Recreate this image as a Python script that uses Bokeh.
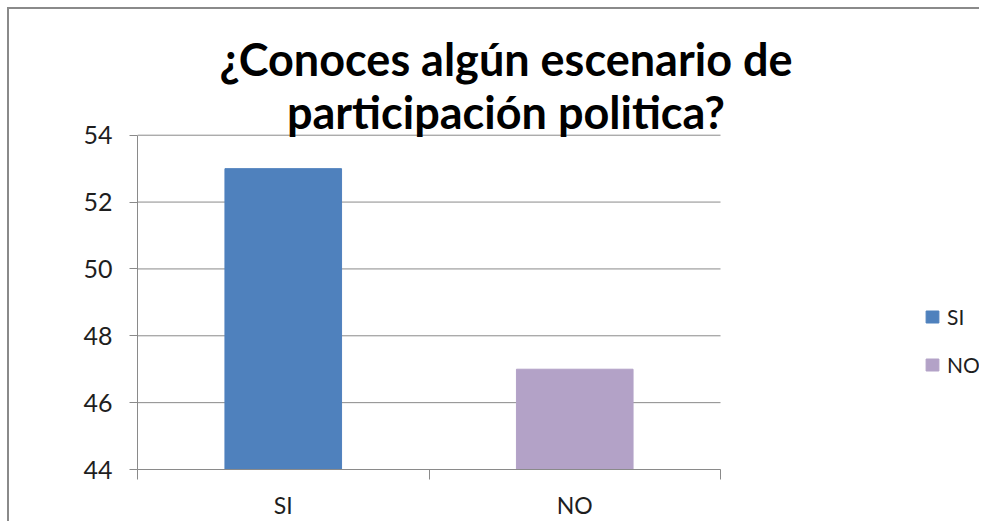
from bokeh.plotting import figure
from bokeh.layouts import column
from bokeh.models import ColumnDataSource, FixedTicker, Range1d, Label
from bokeh.embed import file_html
from bokeh.resources import INLINE

categories = ["SI", "NO"]
values = [53, 47]
colors = ["#4F81BD", "#B3A2C7"]
y_ticks = [44, 46, 48, 50, 52, 54]
title_lines = ["¿Conoces algún escenario de", "participación politica?"]

n = len(categories)
xs = [i + 0.5 for i in range(n)]
src = ColumnDataSource(dict(x=xs, top=values, color=colors, cat=categories))

FONT = "Lato"
GRAY = "#8a8a8a"

# frame extends right (legend area) and up (title area); axes are bounded to the data area
p = figure(
    output_backend="svg", toolbar_location=None, tools="",
    frame_width=842, frame_height=469,
    min_border_left=137, min_border_top=0, min_border_right=0, min_border_bottom=42,
    x_range=Range1d(0, 2.8885), y_range=Range1d(y_ticks[0], 58.03),
)
p.outline_line_color = None
p.background_fill_color = None
p.border_fill_color = None
p.xgrid.grid_line_color = None
p.ygrid.grid_line_color = None

# horizontal gridlines across the category area
p.segment(x0=0, x1=n, y0=y_ticks, y1=y_ticks, line_color=GRAY, line_width=1)

p.vbar(x="x", top="top", bottom=y_ticks[0], width=0.4, color="color",
       legend_field="cat", source=src)

xa = p.xaxis[0]
xa.bounds = (0, n)
xa.ticker = FixedTicker(ticks=xs, minor_ticks=list(range(n + 1)))
xa.major_label_overrides = {x: c for x, c in zip(xs, categories)}
xa.major_tick_in = 0
xa.major_tick_out = 0
xa.minor_tick_in = 0
xa.minor_tick_out = 10
xa.minor_tick_line_color = GRAY
xa.axis_line_color = GRAY
xa.major_label_text_font = FONT
xa.major_label_text_font_size = "23px"
xa.major_label_text_color = "#1e1e1e"
xa.major_label_standoff = 11

ya = p.yaxis[0]
ya.bounds = (y_ticks[0], y_ticks[-1])
ya.ticker = FixedTicker(ticks=y_ticks)
ya.major_tick_in = 0
ya.major_tick_out = 8
ya.minor_tick_line_color = None
ya.major_tick_line_color = GRAY
ya.axis_line_color = GRAY
ya.major_label_text_font = FONT
ya.major_label_text_font_size = "25px"
ya.major_label_text_color = "#1e1e1e"
ya.major_label_standoff = 17

for txt, yy in zip(title_lines, [56.28, 54.70]):
    p.add_layout(Label(x=1.264, y=yy, text=txt, text_align="center", text_baseline="alphabetic",
                       text_font=FONT, text_font_style="bold", text_font_size="45px",
                       text_color="black"))

lg = p.legend[0]
lg.location = (787, 89.5)
lg.orientation = "vertical"
lg.border_line_color = None
lg.background_fill_alpha = 0
lg.padding = 0
lg.margin = 0
lg.glyph_width = 16
lg.glyph_height = 15
lg.label_height = 30
lg.spacing = 18
lg.label_standoff = 7
lg.label_text_font = FONT
lg.label_text_font_size = "21px"
lg.label_text_color = "#1e1e1e"

# chart-area border (top and left edges) painted behind the transparent canvas
layout = column(p, styles={
    "background": (
        "linear-gradient(#8a8a8a, #8a8a8a) 7px 7px / 100% 2px no-repeat, "
        "linear-gradient(#8a8a8a, #8a8a8a) 7px 7px / 2px 100% no-repeat, white"
    )
})

open("out.html", "w").write(file_html(layout, INLINE))
